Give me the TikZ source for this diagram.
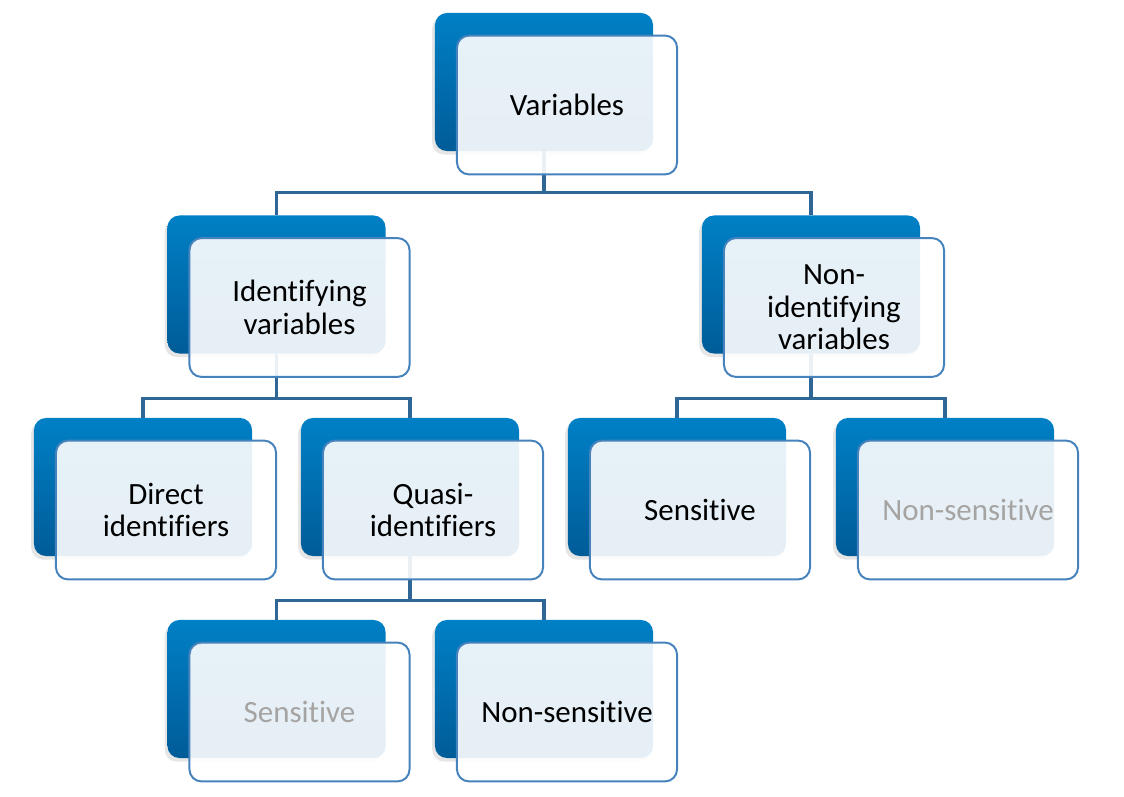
\documentclass[tikz,border=0pt]{standalone}
\usepackage{fontspec}
\setmainfont{Carlito}[Ligatures=NoCommon]
\usepackage{tikz}
\usetikzlibrary{shadows}

\definecolor{boxtop}{RGB}{0,128,198}
\definecolor{boxbot}{RGB}{0,92,152}
\definecolor{frameblue}{RGB}{70,130,188}
\definecolor{linkblue}{RGB}{46,103,150}
\definecolor{dimtext}{RGB}{166,164,162}

\tikzset{
    backbox/.style={rectangle, rounded corners=0.3cm, minimum width=5.45cm, minimum height=3.45cm,
        top color=boxtop, bottom color=boxbot, draw=none,
        drop shadow={shadow xshift=-0.07cm, shadow yshift=-0.09cm, opacity=0.2}},
    frontbox/.style={rectangle, rounded corners=0.3cm, minimum width=5.5cm, minimum height=3.47cm,
        draw=frameblue, line width=1.4pt, fill=white, fill opacity=0.9, text opacity=1,
        align=center, font=\fontsize{22}{23}\selectfont},
    conn/.style={draw=linkblue, line width=2.2pt},
    dim/.style={text=dimtext}
}

\begin{document}
\begin{tikzpicture}[x=0.025cm, y=-0.025cm]
    \useasboundingbox (0,0) rectangle (1124,796);
    % Back boxes
    \node[backbox] (var) at (544,82) {};
    \node[backbox] (ident) at (276.5,284.5) {};
    \node[backbox] (nonident) at (811,284.5) {};
    \node[backbox] (direct) at (143,487) {};
    \node[backbox] (quasi) at (410,487) {};
    \node[backbox] (sens) at (677,487) {};
    \node[backbox] (nonsens) at (945,487) {};
    \node[backbox] (qsens) at (276.5,689) {};
    \node[backbox] (qnonsens) at (544,689) {};
    % Connectors
    \draw[conn] (var.south) -- ++(0,41) -| (ident.north);
    \draw[conn] (var.south) -- ++(0,41) -| (nonident.north);
    \draw[conn] (ident.south) -- ++(0,45) -| (direct.north);
    \draw[conn] (ident.south) -- ++(0,45) -| (quasi.north);
    \draw[conn] (nonident.south) -- ++(0,45) -| (sens.north);
    \draw[conn] (nonident.south) -- ++(0,45) -| (nonsens.north);
    \draw[conn] (quasi.south) -- ++(0,44) -| (qsens.north);
    \draw[conn] (quasi.south) -- ++(0,44) -| (qnonsens.north);
    % Front boxes with labels
    \node[frontbox] (var-f) at ([shift={(23,23)}]var.center) {Variables};
    \node[frontbox] (ident-f) at ([shift={(23,23)}]ident.center) {Identifying\\variables};
    \node[frontbox] (nonident-f) at ([shift={(23,23)}]nonident.center) {Non-\\identifying\\variables};
    \node[frontbox] (direct-f) at ([shift={(23,23)}]direct.center) {Direct\\identifiers};
    \node[frontbox] (quasi-f) at ([shift={(23,23)}]quasi.center) {Quasi-\\identifiers};
    \node[frontbox] (sens-f) at ([shift={(23,23)}]sens.center) {Sensitive};
    \node[frontbox, dim] (nonsens-f) at ([shift={(23,23)}]nonsens.center) {Non-sensitive};
    \node[frontbox, dim] (qsens-f) at ([shift={(23,23)}]qsens.center) {Sensitive};
    \node[frontbox] (qnonsens-f) at ([shift={(23,23)}]qnonsens.center) {Non-sensitive};
\end{tikzpicture}
\end{document}
